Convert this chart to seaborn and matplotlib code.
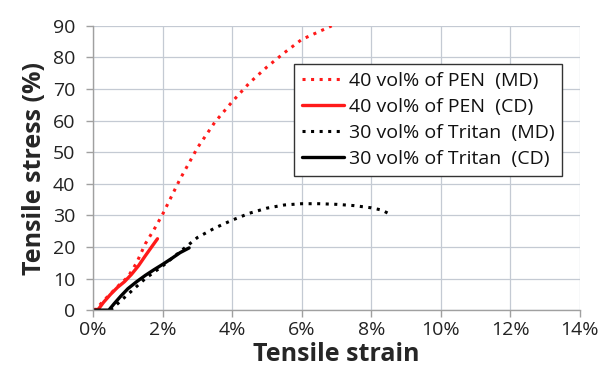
import matplotlib
matplotlib.use("Agg")
import matplotlib.pyplot as plt
import seaborn as sns
import pandas as pd
from matplotlib.ticker import FuncFormatter

# Data (strain in %, stress)
pen_md_x = [0.0, 0.1, 0.3, 0.5, 0.75, 1.0, 1.25, 1.5, 1.75, 2.0, 2.5, 3.0, 3.5, 4.0, 4.5, 5.0, 5.5, 6.0, 6.5, 6.86]
pen_md_y = [0.0, 0.5, 3.0, 5.2, 8.0, 10.5, 15.0, 21.0, 25.5, 30.4, 41.5, 51.4, 59.5, 66.0, 72.0, 77.0, 81.5, 85.7, 88.2, 90.0]

pen_cd_x = [0.0, 0.15, 0.3, 0.5, 0.7, 0.9, 1.1, 1.3, 1.5, 1.7, 1.85]
pen_cd_y = [0.0, 0.3, 2.5, 5.0, 7.2, 9.0, 11.3, 14.0, 17.2, 20.3, 22.6]

tri_md_x = [0.5, 0.75, 1.0, 1.5, 2.0, 2.5, 3.0, 3.5, 4.0, 4.5, 5.0, 5.5, 6.0, 6.5, 7.0, 7.5, 8.0, 8.3, 8.48]
tri_md_y = [0.0, 2.5, 5.0, 10.0, 14.0, 18.5, 23.0, 26.0, 28.5, 30.7, 32.3, 33.3, 33.7, 33.7, 33.5, 33.1, 32.4, 31.7, 30.7]

tri_cd_x = [0.0, 0.45, 0.6, 0.8, 1.0, 1.25, 1.5, 1.75, 2.0, 2.25, 2.5, 2.76]
tri_cd_y = [0.0, 0.0, 2.0, 4.5, 6.8, 9.0, 11.0, 12.8, 14.5, 16.3, 18.2, 19.7]

labels = ["40 vol% of PEN  (MD)", "40 vol% of PEN  (CD)",
          "30 vol% of Tritan  (MD)", "30 vol% of Tritan  (CD)"]
x_ticks = [0, 2, 4, 6, 8, 10, 12, 14]
y_ticks = [0, 10, 20, 30, 40, 50, 60, 70, 80, 90]

sns.set_theme(style="white")
plt.rcParams['font.family'] = ['Open Sans', 'DejaVu Sans']

fig = plt.figure(figsize=(6.09, 3.81), dpi=100)
ax = fig.add_axes([0.153, 0.186, 0.799, 0.746])

series = [
    (pen_md_x, pen_md_y, labels[0], "#ff1a1a", (0, (1, 1.8)), 2.2),
    (pen_cd_x, pen_cd_y, labels[1], "#ff1a1a", "-", 2.4),
    (tri_md_x, tri_md_y, labels[2], "black", (0, (1, 1.8)), 2.2),
    (tri_cd_x, tri_cd_y, labels[3], "black", "-", 2.4),
]
for xs, ys, lab, col, ls, lw in series:
    df = pd.DataFrame({"strain": xs, "stress": ys})
    sns.lineplot(data=df, x="strain", y="stress", ax=ax, color=col,
                 linestyle=ls, linewidth=lw, label=lab, sort=False, estimator=None)

ax.set_xlim(0, 14)
ax.set_ylim(0, 90)
ax.set_xticks(x_ticks)
ax.set_yticks(y_ticks)
ax.xaxis.set_major_formatter(FuncFormatter(lambda v, p: f"{int(v)}%"))
ax.grid(True, color="#c4cad3", linewidth=0.9)
ax.set_axisbelow(True)
for s in ["top", "right"]:
    ax.spines[s].set_visible(False)
for s in ["left", "bottom"]:
    ax.spines[s].set_color("#a0a0a0")
    ax.spines[s].set_linewidth(1.0)
ax.tick_params(axis="both", labelsize=14, colors="#a0a0a0", labelcolor="#222222",
               length=5, width=1.0, direction="out")
ax.tick_params(axis="x", bottom=True, pad=3)
ax.tick_params(axis="y", left=True, pad=8)
ax.set_xlabel("Tensile strain", fontsize=18, fontweight="bold", labelpad=2)
ax.set_ylabel("Tensile stress (%)", fontsize=18, fontweight="bold", labelpad=4)

leg = ax.legend(loc="upper left", bbox_to_anchor=(0.413, 0.866), fontsize=14,
                frameon=True, fancybox=False, edgecolor="#333333",
                handlelength=2.16, handletextpad=0.26, borderpad=0.4,
                labelspacing=0.42, framealpha=1, borderaxespad=0)
leg.get_frame().set_linewidth(1.0)
for t in leg.get_texts():
    t.set_color("#111111")

fig.savefig("out.png", dpi=100)
